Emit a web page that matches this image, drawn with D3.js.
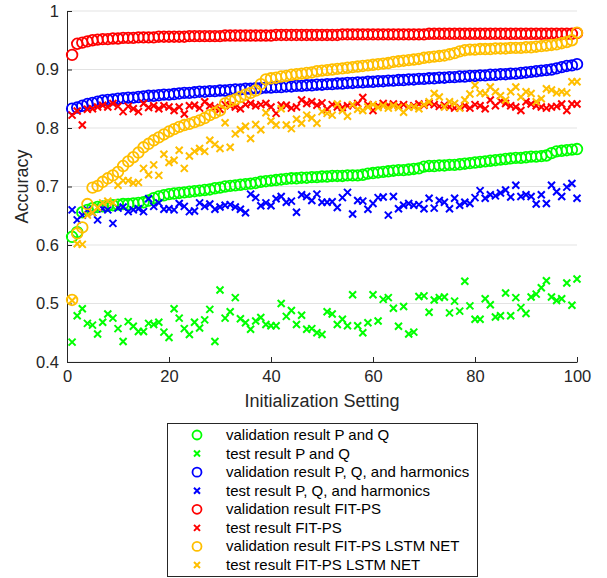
<!DOCTYPE html>
<html>
<head>
<meta charset="utf-8">
<script src="https://cdn.jsdelivr.net/npm/d3@7"></script>
<style>
  body { margin: 0; background: #fff; }
  text { font-family: "Liberation Sans", Arial, sans-serif; }
</style>
</head>
<body>
<script>
// accuracy per initialization setting (1..100)
var valPQ = [.614,.622,.656,.660,.663,.665,.666,.667,.668,.669,
  .670,.670,.671,.672,.673,.676,.680,.683,.685,.687,
  .688,.689,.690,.691,.692,.693,.694,.695,.697,.698,
  .700,.701,.702,.703,.704,.705,.706,.708,.709,.710,
  .711,.712,.713,.714,.714,.715,.715,.716,.716,.717,
  .717,.718,.718,.718,.719,.719,.719,.720,.722,.723,
  .724,.725,.726,.727,.728,.728,.729,.730,.731,.734,
  .735,.735,.736,.736,.737,.737,.738,.739,.740,.741,
  .742,.743,.744,.745,.746,.747,.748,.749,.749,.750,
  .751,.751,.752,.753,.757,.760,.761,.762,.763,.764];
var testPQ = [.434,.479,.491,.466,.463,.448,.468,.482,.475,.457,
  .435,.469,.461,.452,.452,.466,.464,.468,.451,.442,
  .491,.475,.457,.447,.468,.458,.472,.490,.435,.523,
  .475,.486,.510,.474,.467,.456,.470,.476,.464,.462,
  .462,.500,.478,.488,.464,.480,.456,.457,.450,.447,
  .486,.482,.464,.473,.462,.515,.462,.450,.467,.515,
  .470,.507,.510,.492,.461,.495,.448,.451,.512,.513,
  .485,.506,.510,.511,.484,.504,.487,.538,.496,.473,
  .473,.508,.498,.477,.479,.518,.479,.510,.493,.483,
  .511,.516,.527,.539,.511,.505,.508,.535,.497,.542];
var valHarm = [.833,.835,.838,.841,.843,.845,.847,.848,.849,.850,
  .851,.852,.852,.853,.854,.855,.855,.856,.857,.857,
  .858,.859,.860,.860,.861,.862,.862,.863,.863,.864,
  .864,.865,.866,.866,.867,.867,.868,.868,.869,.869,
  .870,.870,.871,.871,.872,.872,.873,.873,.874,.874,
  .875,.875,.876,.876,.877,.877,.878,.878,.879,.879,
  .880,.880,.881,.881,.882,.882,.883,.883,.884,.884,
  .885,.885,.886,.886,.887,.887,.888,.888,.889,.889,
  .890,.890,.891,.891,.892,.892,.893,.893,.894,.895,
  .896,.897,.898,.899,.900,.902,.904,.906,.907,.909];
var testHarm = [.660,.643,.651,.660,.655,.643,.662,.660,.637,.663,
  .665,.657,.660,.662,.657,.679,.666,.672,.661,.662,
  .660,.671,.666,.657,.658,.672,.666,.670,.661,.665,
  .668,.669,.665,.661,.655,.687,.681,.667,.672,.667,
  .679,.683,.673,.675,.656,.686,.683,.676,.687,.673,
  .673,.674,.664,.681,.690,.653,.676,.675,.661,.671,
  .681,.682,.651,.683,.662,.668,.671,.668,.669,.662,
  .680,.663,.676,.673,.662,.680,.668,.673,.671,.681,
  .693,.680,.686,.684,.689,.694,.682,.702,.683,.686,
  .683,.670,.686,.671,.702,.691,.683,.699,.705,.680];
var valFit = [.925,.944,.946,.948,.950,.951,.952,.952,.953,.953,
  .954,.954,.954,.955,.955,.955,.955,.956,.956,.956,
  .956,.956,.956,.957,.957,.957,.957,.957,.957,.957,
  .958,.958,.958,.958,.958,.958,.958,.958,.958,.958,
  .959,.959,.959,.959,.959,.959,.959,.959,.959,.959,
  .959,.959,.959,.960,.960,.960,.960,.960,.960,.960,
  .960,.960,.960,.960,.960,.960,.960,.960,.960,.960,
  .961,.961,.961,.961,.961,.961,.961,.961,.961,.961,
  .961,.961,.961,.961,.961,.961,.961,.961,.961,.961,
  .961,.961,.961,.961,.961,.961,.961,.961,.961,.962];
var testFit = [.822,.829,.805,.832,.833,.836,.839,.836,.842,.837,
  .828,.837,.833,.828,.842,.835,.838,.833,.838,.836,
  .830,.836,.824,.838,.839,.834,.845,.838,.835,.832,
  .840,.838,.836,.833,.840,.842,.838,.840,.842,.836,
  .825,.839,.839,.834,.836,.848,.842,.845,.839,.843,
  .832,.840,.836,.835,.838,.839,.842,.852,.840,.830,
  .838,.842,.839,.841,.838,.840,.836,.838,.841,.839,
  .842,.840,.837,.839,.836,.834,.835,.838,.834,.840,
  .838,.833,.848,.838,.846,.842,.838,.836,.830,.845,
  .841,.838,.836,.834,.836,.837,.841,.830,.841,.841];
var valLstm = [.506,.620,.630,.670,.698,.701,.708,.714,.719,.725,
  .735,.743,.750,.758,.767,.773,.779,.784,.789,.794,
  .798,.802,.805,.807,.810,.813,.817,.822,.826,.830,
  .842,.846,.849,.853,.857,.860,.864,.875,.883,.885,
  .886,.888,.889,.891,.892,.893,.894,.895,.897,.898,
  .899,.900,.901,.902,.903,.904,.905,.906,.907,.908,
  .909,.910,.911,.913,.914,.915,.916,.917,.918,.920,
  .921,.922,.923,.924,.926,.928,.931,.933,.934,.934,
  .935,.935,.935,.936,.936,.936,.937,.937,.937,.938,
  .938,.939,.940,.941,.942,.943,.945,.947,.950,.963];
var testLstm = [.505,.602,.601,.651,.655,.664,.672,.675,.672,.702,
  .710,.710,.706,.707,.731,.720,.737,.719,.755,.741,
  .745,.762,.731,.752,.760,.765,.760,.779,.772,.765,
  .809,.767,.790,.797,.803,.782,.806,.797,.826,.812,
  .805,.833,.805,.799,.815,.808,.822,.817,.808,.828,
  .825,.822,.841,.830,.820,.840,.832,.830,.836,.840,
  .835,.838,.834,.838,.835,.827,.836,.836,.833,.840,
  .845,.859,.853,.836,.845,.842,.834,.848,.858,.873,
  .860,.859,.870,.862,.855,.848,.862,.870,.853,.862,
  .859,.845,.850,.867,.865,.860,.862,.860,.879,.879];

var seriesNames = ["validation result P and Q", "test result P and Q",
  "validation result P, Q, and harmonics", "test result P, Q, and harmonics",
  "validation result FIT-PS", "test result FIT-PS",
  "validation result FIT-PS LSTM NET", "test result FIT-PS LSTM NET"];
var seriesColors = ["#00ff00", "#00ff00", "#0000ff", "#0000ff", "#ff0000", "#ff0000", "#ffbf00", "#ffbf00"];
var seriesMarkers = ["o", "x", "o", "x", "o", "x", "o", "x"];
var seriesValues = [valPQ, testPQ, valHarm, testHarm, valFit, testFit, valLstm, testLstm];
var xTicks = [0, 20, 40, 60, 80, 100];
var yTicks = [0.4, 0.5, 0.6, 0.7, 0.8, 0.9, 1];

var width = 607, height = 578;
var plotLeft = 67, plotRight = 577, plotTop = 11, plotBottom = 362;
var axisColor = "#262626";

var svg = d3.select("body").append("svg")
    .attr("width", width)
    .attr("height", height);

var x = d3.scaleLinear().domain([0, 100]).range([plotLeft, plotRight]);
var y = d3.scaleLinear().domain([0.4, 1]).range([plotBottom, plotTop]);

// grid
svg.selectAll("line.grid")
    .data(yTicks)
    .enter()
    .append("line")
    .attr("class", "grid")
    .attr("x1", plotLeft).attr("x2", plotRight)
    .attr("y1", function(d) { return y(d); })
    .attr("y2", function(d) { return y(d); })
    .attr("stroke", "#e3e3e3")
    .attr("stroke-width", 1);

// axes, ticks pointing inward
var xAxis = svg.append("g")
    .attr("transform", "translate(0," + plotBottom + ")")
    .call(d3.axisBottom(x).tickValues(xTicks).tickSizeInner(-5).tickSizeOuter(0).tickPadding(8));
var yAxis = svg.append("g")
    .attr("transform", "translate(" + plotLeft + ",0)")
    .call(d3.axisLeft(y).tickValues(yTicks).tickSizeInner(-5).tickSizeOuter(0).tickPadding(8)
      .tickFormat(function(d) { return d === 1 ? "1" : d3.format(".1f")(d); }));
[xAxis, yAxis].forEach(function(g) {
    g.select(".domain").attr("stroke", axisColor);
    g.selectAll(".tick line").attr("stroke", axisColor);
    g.selectAll(".tick text")
        .attr("fill", axisColor)
        .style("font-size", "16.5px")
        .style("font-family", "Liberation Sans, Arial, sans-serif");
});

svg.append("text")
    .attr("x", (plotLeft + plotRight) / 2)
    .attr("y", 407)
    .attr("text-anchor", "middle")
    .attr("fill", axisColor)
    .style("font-size", "18px")
    .text("Initialization Setting");

svg.append("text")
    .attr("transform", "translate(28," + ((plotTop + plotBottom) / 2) + ") rotate(-90)")
    .attr("text-anchor", "middle")
    .attr("fill", axisColor)
    .style("font-size", "18px")
    .text("Accuracy");

function crossPath(s) {
    return "M" + (-s) + "," + (-s) + "L" + s + "," + s + "M" + (-s) + "," + s + "L" + s + "," + (-s);
}

var plot = svg.append("g");
seriesValues.forEach(function(vals, i) {
    var g = plot.append("g");
    var pts = vals.map(function(v, j) { return { x: j + 1, y: v }; });
    if (seriesMarkers[i] === "o") {
        g.selectAll("circle")
            .data(pts)
            .enter()
            .append("circle")
            .attr("cx", function(d) { return x(d.x); })
            .attr("cy", function(d) { return y(d.y); })
            .attr("r", 5.3)
            .attr("fill", "none")
            .attr("stroke", seriesColors[i])
            .attr("stroke-width", 1.8);
    } else {
        g.selectAll("path")
            .data(pts)
            .enter()
            .append("path")
            .attr("transform", function(d) { return "translate(" + x(d.x) + "," + y(d.y) + ")"; })
            .attr("d", crossPath(3.5))
            .attr("stroke", seriesColors[i])
            .attr("stroke-width", 2)
            .attr("fill", "none");
    }
});

// legend
var lg = svg.append("g");
lg.append("rect")
    .attr("x", 167.5).attr("y", 423.5)
    .attr("width", 310).attr("height", 153)
    .attr("fill", "#fff")
    .attr("stroke", axisColor)
    .attr("stroke-width", 1);
var rowY = d3.scaleLinear().domain([0, 7]).range([435, 565]);
seriesNames.forEach(function(name, i) {
    var cy = rowY(i);
    if (seriesMarkers[i] === "o") {
        lg.append("circle")
            .attr("cx", 197).attr("cy", cy).attr("r", 4.5)
            .attr("fill", "none")
            .attr("stroke", seriesColors[i])
            .attr("stroke-width", 1.8);
    } else {
        lg.append("path")
            .attr("transform", "translate(197," + cy + ")")
            .attr("d", crossPath(3))
            .attr("stroke", seriesColors[i])
            .attr("stroke-width", 2);
    }
    lg.append("text")
        .attr("x", 226).attr("y", cy + 5)
        .attr("fill", "#000")
        .style("font-size", "15px")
        .text(name);
});
</script>
</body>
</html>
